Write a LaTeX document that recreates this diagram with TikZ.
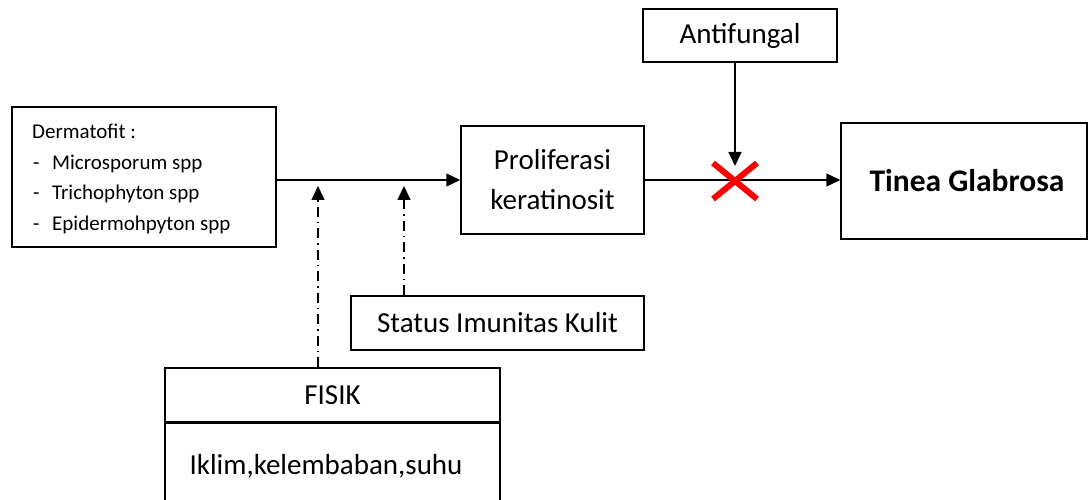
\documentclass[tikz,border=0pt]{standalone}
\usepackage{fontspec}
\setmainfont{Carlito}
\usetikzlibrary{arrows.meta,calc}
\begin{document}
\begin{tikzpicture}[x=1pt,y=-1pt,
  box/.style={draw,line width=1.5pt,inner sep=0pt,align=center},
  arr/.style={line width=1.5pt,-{Triangle[length=14pt,width=13pt]}},
  dd/.style={arr,dash pattern=on 10pt off 5pt on 1.5pt off 5pt},
  small/.style={font=\fontsize{21}{25}\selectfont,inner sep=0pt,anchor=base west},
  font=\fontsize{29}{40}\selectfont]
\useasboundingbox (0,0) rectangle (1088,500);
% boxes
\node (derm) [box,minimum width=264,minimum height=140] at (144,177) {};
\node (d0) [small] at (32,139) {Dermatofit :};
\node (d1a) [small] at (33,170) {-};
\node (d1) [small] at (52,170) {Microsporum spp};
\node (d2a) [small] at (33,200) {-};
\node (d2) [small] at (52,200) {Trichophyton spp};
\node (d3a) [small] at (33,230) {-};
\node (d3) [small] at (52,230) {Epidermohpyton spp};
\node (prol) [box,minimum width=183,minimum height=108] at (552.5,180) {Proliferasi\\keratinosit};
\node (anti) [box,minimum width=194,minimum height=53] at (740,35.5) {Antifungal};
\node (tinea) [box,minimum width=246,minimum height=116,font=\fontsize{31.5}{38}\selectfont\bfseries] at (964,181) {\hspace*{6pt}Tinea Glabrosa};
\node (status) [box,minimum width=293,minimum height=54] at (497.5,323) {Status Imunitas Kulit};
\node (fis) [box,minimum width=335,minimum height=54] at (332.5,395) {FISIK};
\node (fisb) [box,minimum width=335,minimum height=88,anchor=north] at (fis.south) {};
\node (iklim) at (326,466) {Iklim,kelembaban,suhu};
% coordinates
\coordinate (X) at (735,181);
\coordinate (xtip) at (735,166);
\coordinate (t1) at (318,186);
\coordinate (t2) at (404,186);
% connectors
\draw[arr] (derm.east |- prol.west) -- (prol.west);
\draw[arr] (prol.east) -- (prol.east -| tinea.west);
\draw[arr] (anti.south -| xtip) -- (xtip);
\draw[dd] (fis.north -| t1) -- (t1);
\draw[dd] (status.north -| t2) -- (t2);
% red cross
\draw[red,line width=6pt] ($(X)+(-22,-18)$) -- ($(X)+(22,18)$);
\draw[red,line width=6pt] ($(X)+(-22,18)$) -- ($(X)+(22,-18)$);
\end{tikzpicture}
\end{document}
